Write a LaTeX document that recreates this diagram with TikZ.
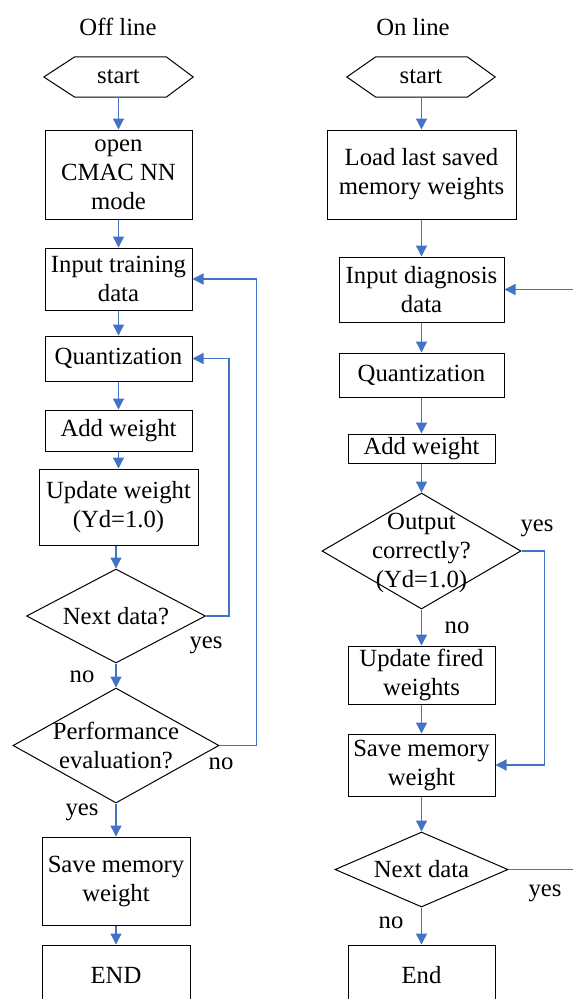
\documentclass[tikz,border=0pt]{standalone}
\usepackage{fontspec}
\setmainfont{LiberationSerif}[Extension=.ttf, UprightFont=*-Regular, BoldFont=*-Bold]
\usetikzlibrary{arrows.meta,shapes.geometric,calc}
\definecolor{flowblue}{HTML}{4472C4}
\begin{document}
\begin{tikzpicture}[x=1pt,y=-1pt,
  every node/.style={font=\rmfamily\fontsize{24.7}{29}\selectfont, inner sep=0pt},
  proc/.style={draw=black, line width=1pt, align=center},
  term/.style={align=center},
  dec/.style={draw=black, line width=1pt, shape=diamond, inner sep=0pt},
  dectext/.style={align=center},
  flow/.style={draw=flowblue, line width=1.3pt, -{Triangle[length=11pt,width=11pt]}},
  hexline/.style={draw=black, line width=1pt}]
\clip (0,0) rectangle (573,999);

% ---------------- Off line ----------------
\node (t1) at (118,27) {Off line};
\node[term, minimum width=149pt, minimum height=40pt] (s1) at (118.5,77) {start};
\draw[hexline] ([xshift=31pt]s1.north west) -- ([xshift=-27pt]s1.north east) -- (s1.east)
  -- ([xshift=-27pt]s1.south east) -- ([xshift=31pt]s1.south west) -- (s1.west) -- cycle;
\node[proc, minimum width=147pt, minimum height=89pt] (b1) at (118.5,174.5) {open\\CMAC NN\\mode};
\node[proc, minimum width=147pt, minimum height=62pt] (b2) at (118.5,279) {Input training\\data};
\node[proc, minimum width=147pt, minimum height=45pt] (b3) at (118.5,358.5) {Quantization};
\node[proc, minimum width=147pt, minimum height=41pt] (b4) at (118.5,430.5) {Add weight};
\node[proc, minimum width=159pt, minimum height=76pt] (b5) at (118.5,507) {Update weight\\(Yd=1.0)};
\node[dec, minimum width=179pt, minimum height=94pt] (d1) at (116,616) {};
\node[dectext] (d1t) at (d1.center) {Next data?};
\node[dec, minimum width=206pt, minimum height=115pt] (d2) at (116,745.5) {};
\node[dectext] (d2t) at (d2.center) {Performance\\evaluation?};
\node[proc, minimum width=148pt, minimum height=88pt] (b6) at (116,881) {Save memory\\weight};
\node[proc, minimum width=148pt, minimum height=60pt] (b7) at (116,975) {END};

\node (l1) at (206,645) {yes};
\node (l2) at (82,677) {no};
\node (l3) at (221,764) {no};
\node (l4) at (82,812) {yes};

\draw[flow] (s1.south) -- (b1.north);
\draw[flow] (b1.south) -- (b2.north);
\draw[flow] (b2.south) -- (b3.north);
\draw[flow] (b3.south) -- (b4.north);
\draw[flow] (b4.south) -- (b5.north);
\draw[flow] (b5.south -| d1.north) -- (d1.north);
\draw[flow] (d1.south) -- (d2.north);
\draw[flow] (d2.south) -- (b6.north);
\draw[flow] (b6.south) -- (b7.north);
\draw[flow] (d1.east) -- ++(23,0) |- (b3.east);
\draw[flow] (d2.east) -- ++(37,0) |- (b2.east);

% ---------------- On line ----------------
\node (t2) at (413,27) {On line};
\node[term, minimum width=148pt, minimum height=40pt] (s2) at (421,77) {start};
\draw[hexline] ([xshift=29pt]s2.north west) -- ([xshift=-28pt]s2.north east) -- (s2.east)
  -- ([xshift=-28pt]s2.south east) -- ([xshift=29pt]s2.south west) -- (s2.west) -- cycle;
\node[proc, minimum width=189pt, minimum height=89pt] (r1) at (421.5,174.5) {Load last saved\\memory weights};
\node[proc, minimum width=165pt, minimum height=65pt] (r2) at (421.5,289.5) {Input diagnosis\\data};
\node[proc, minimum width=165pt, minimum height=44pt] (r3) at (421.5,375) {Quantization};
\node[proc, minimum width=147pt, minimum height=29pt] (r4) at (421.5,448.5) {Add weight};
\node[dec, minimum width=199pt, minimum height=116pt] (rd1) at (421.5,551) {};
\node[dectext] (rd1t) at (421.5,553) {Output\\correctly?\\(Yd=1.0)};
\node[proc, minimum width=147pt, minimum height=58pt] (r5) at (421.5,675) {Update fired\\weights};
\node[proc, minimum width=147pt, minimum height=62pt] (r6) at (421.5,765) {Save memory\\weight};
\node[dec, minimum width=173pt, minimum height=75pt] (rd2) at (421.5,869.5) {};
\node[dectext] (rd2t) at (rd2.center) {Next data};
\node[proc, minimum width=147pt, minimum height=60pt] (r7) at (421.5,975) {End};

\node (m1) at (537,528) {yes};
\node (m2) at (457,628) {no};
\node (m3) at (545,893) {yes};
\node (m4) at (391,923) {no};

\draw[flow] (s2.south -| r1.north) -- (r1.north);
\draw[flow] (r1.south) -- (r2.north);
\draw[flow] (r2.south) -- (r3.north);
\draw[flow] (r3.south) -- (r4.north);
\draw[flow] (r4.south) -- (rd1.north);
\draw[flow] (rd1.south) -- (r5.north);
\draw[flow] (r5.south) -- (r6.north);
\draw[flow] (r6.south) -- (rd2.north);
\draw[flow] (rd2.south) -- (r7.north);
\draw[flow] (rd1.east) -- ++(23,0) |- (r6.east);
\draw[flow] (rd2.east) -- ++(72,0) |- (r2.east);
\end{tikzpicture}
\end{document}
